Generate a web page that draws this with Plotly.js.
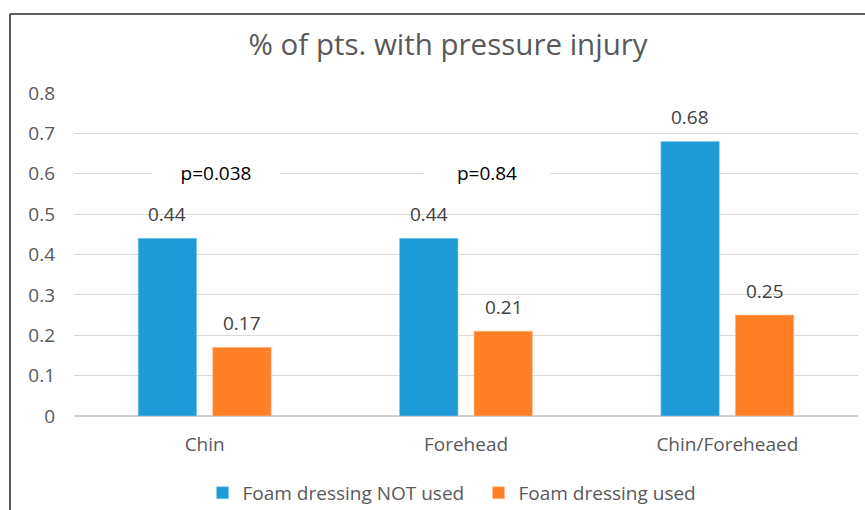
<!DOCTYPE html>
<html>
<head>
<meta charset="utf-8">
<script src="https://cdn.plot.ly/plotly-3.0.1.min.js"></script>
<style>
html,body{margin:0;padding:0;background:#fff;}
#chart{width:865px;height:510px;}
</style>
</head>
<body>
<div id="chart"></div>
<script>
const categories = ["Chin", "Forehead", "Chin/Foreheaed"];
const notUsedValues = [0.44, 0.44, 0.68];
const usedValues = [0.17, 0.21, 0.25];
const seriesNames = ["Foam dressing NOT used", "Foam dressing used"];
const pValueLabels = ["p=0.038", "p=0.84", "p=0.003"];
const pValueLevels = [0.6, 0.6, 0.835];
const titleText = "% of pts. with pressure injury";

const FONT = "Open Sans, sans-serif";
const BLUE = "#1E9BD7";
const ORANGE = "#FF7F27";
const pLabelOffsetsPx = [11, 21, 31];

const traces = [
  {type: "bar", name: seriesNames[0], x: categories, y: notUsedValues,
   marker: {color: BLUE, line: {color: "#8fcbeb", width: 0.6}}, hoverinfo: "y"},
  {type: "bar", name: seriesNames[1], x: categories, y: usedValues,
   marker: {color: ORANGE, line: {color: "#ffbf93", width: 0.6}}, hoverinfo: "y"}
];

const annotations = [];
categories.forEach((c, i) => {
  annotations.push({x: c, y: notUsedValues[i], xref: "x", yref: "y", text: notUsedValues[i].toFixed(2),
    showarrow: false, yanchor: "bottom", xshift: -37.5, yshift: 9,
    font: {family: FONT, size: 19, color: "#404040"}});
  annotations.push({x: c, y: usedValues[i], xref: "x", yref: "y", text: usedValues[i].toFixed(2),
    showarrow: false, yanchor: "bottom", xshift: 37.5, yshift: 9,
    font: {family: FONT, size: 19, color: "#404040"}});
  annotations.push({x: c, y: pValueLevels[i], xref: "x", yref: "y", text: pValueLabels[i],
    showarrow: false, yanchor: "middle", xshift: pLabelOffsetsPx[i], yshift: 1,
    width: 124, height: 28, bgcolor: "#ffffff",
    font: {family: FONT, size: 19, color: "#000000"}});
});

const layout = {
  width: 865, height: 510,
  margin: {l: 74, r: 7, t: 93, b: 94, autoexpand: false},
  paper_bgcolor: "#fff", plot_bgcolor: "#fff",
  title: {text: titleText, x: 0.518, xanchor: "center", xref: "container",
          y: 0.912, yanchor: "middle", yref: "container",
          font: {family: FONT, size: 29.5, color: "#595959"}},
  barmode: "group", bargap: 0.43, bargroupgap: 0.215,
  xaxis: {type: "category", showgrid: false, zeroline: false, showline: false,
          ticks: "", ticklabelstandoff: 15,
          tickfont: {family: FONT, size: 19, color: "#595959"}},
  yaxis: {range: [0, 0.8], dtick: 0.1, tick0: 0, showgrid: true, gridcolor: "#d9d9d9", gridwidth: 1,
          zeroline: true, zerolinecolor: "#d0d0d0", zerolinewidth: 1.5,
          showline: false, ticks: "", ticklabelstandoff: 18,
          tickfont: {family: FONT, size: 19, color: "#595959"}},
  showlegend: true,
  legend: {orientation: "h", x: 0.516, xanchor: "center", y: -0.238, yanchor: "middle",
           font: {family: FONT, size: 19, color: "#595959"}, itemwidth: 30, traceorder: "normal",
           entrywidth: 231},
  annotations: annotations,
  shapes: [
    {type: "line", xref: "paper", yref: "paper", x0: (10 - 74) / 784, x1: (870 - 74) / 784,
     y0: (416 - 14) / 323, y1: (416 - 14) / 323, line: {color: "#262626", width: 1.5}},
    {type: "line", xref: "paper", yref: "paper", x0: (10 - 74) / 784, x1: (10 - 74) / 784,
     y0: (416 - 14) / 323, y1: (416 - 520) / 323, line: {color: "#262626", width: 1.5}}
  ]
};

Plotly.newPlot("chart", traces, layout, {displayModeBar: false, staticPlot: true});
</script>
</body>
</html>
